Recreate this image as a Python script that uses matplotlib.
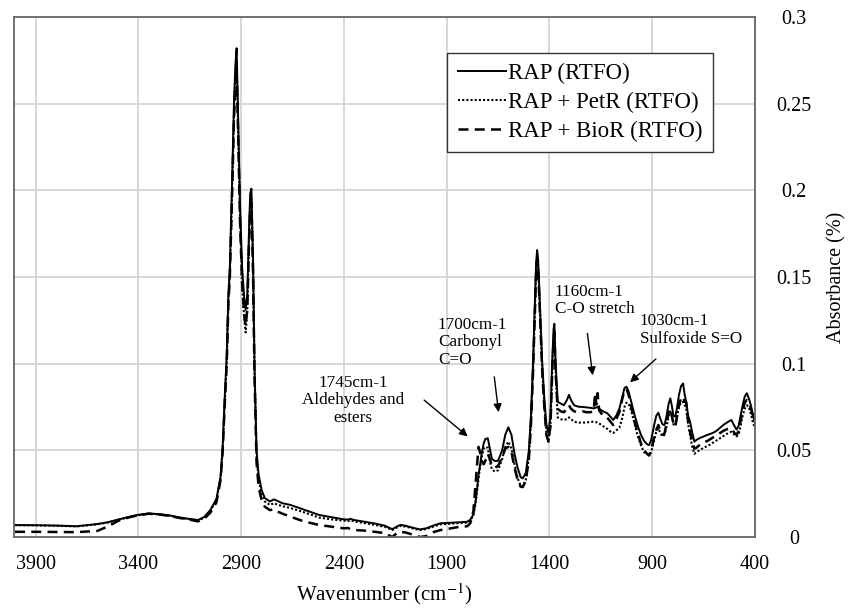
import numpy as np
import matplotlib
matplotlib.use('Agg')
import matplotlib.pyplot as plt

############################################################################
#    Dati spettro FTIR                                 #
############################################################################

wavenumber = np.array([
    4000, 3900, 3800, 3700, 3600, 3550, 3500, 3450, 3400, 3350,
    3300, 3250, 3200, 3150, 3110, 3080, 3050, 3020, 3000, 2990,
    2980, 2970, 2962, 2955, 2945, 2935, 2928, 2922, 2915, 2905,
    2895, 2885, 2878, 2870, 2862, 2856, 2850, 2842, 2835, 2825,
    2815, 2800, 2785, 2760, 2740, 2730, 2700, 2660, 2600, 2520,
    2450, 2400, 2380, 2370, 2350, 2300, 2250, 2200, 2165, 2140,
    2125, 2100, 2060, 2030, 2000, 1960, 1930, 1880, 1840, 1800,
    1785, 1770, 1760, 1750, 1745, 1738, 1730, 1720, 1712, 1700,
    1690, 1680, 1665, 1650, 1630, 1615, 1600, 1585, 1570, 1555,
    1540, 1530, 1515, 1500, 1490, 1480, 1470, 1465, 1460, 1455,
    1445, 1435, 1425, 1415, 1405, 1395, 1387, 1380, 1376, 1370,
    1360, 1345, 1330, 1315, 1305, 1295, 1280, 1260, 1240, 1220,
    1200, 1185, 1178, 1172, 1166, 1158, 1140, 1120, 1100, 1090,
    1075, 1060, 1045, 1035, 1025, 1015, 1000, 985, 970, 955, 940,
    925, 915, 905, 890, 880, 870, 860, 850, 840, 830,
    820, 812, 805, 797, 788, 780, 770, 760, 750, 742,
    735, 725, 715, 705, 695, 685, 670, 650, 630, 610,
    590, 570, 550, 530, 515, 500, 490, 480, 470, 460,
    450, 440, 430, 420, 410, 400])

rap = np.array([
    .0069, .0068, .0066, .0062, .0075, .0085, .0100, .0115, .0128, .0136,
    .0132, .0125, .0113, .0104, .0098, .0115, .0155, .0220, .0350, .0520,
    .080, .105, .140, .155, .200, .250, .272, .282, .245, .190,
    .155, .138, .131, .140, .175, .198, .201, .160, .100, .050,
    .036, .027, .0225, .0205, .0217, .0212, .0195, .0185, .0160, .0127,
    .0112, .0102, .0100, .0105, .0098, .0088, .0078, .0065, .0045, .0062,
    .0070, .0065, .0052, .0044, .0050, .0068, .0079, .0082, .0085, .0088,
    .0100, .0130, .0200, .0300, .0360, .0410, .0480, .0540, .0565, .0570,
    .0510, .0450, .0438, .0440, .0500, .0590, .0633, .0590, .0480, .0400,
    .0345, .0338, .0370, .0500, .0700, .1000, .1400, .1580, .1655, .1600,
    .1300, .1000, .0800, .0650, .0600, .0700, .1000, .1200, .1230, .1000,
    .0780, .0770, .0760, .0790, .0820, .0790, .0760, .0752, .0750, .0748,
    .0745, .0742, .0745, .0748, .0750, .0740, .0725, .0715, .0690, .0675,
    .0700, .0740, .0810, .0860, .0867, .0840, .0770, .0700, .0640, .0590, .0555,
    .0535, .0530, .0560, .0650, .0700, .0717, .0680, .0650, .0646, .0700,
    .0770, .0800, .0760, .0700, .0694, .0740, .0820, .0870, .0886, .0820,
    .0780, .0700, .0660, .0600, .0550, .0560, .0570, .0580, .0590, .0598,
    .0610, .0630, .0650, .0665, .0675, .0640, .0620, .0640, .0700, .0760,
    .0810, .0830, .0800, .0760, .0700, .0656])

rap_petr = np.array([
    .0068, .0067, .0065, .0061, .0073, .0083, .0098, .0113, .0126, .0134,
    .0130, .0123, .0111, .0102, .0096, .0110, .0150, .0215, .0340, .0500,
    .077, .101, .136, .152, .195, .243, .265, .274, .238, .182,
    .145, .126, .118, .130, .170, .193, .196, .155, .096, .047,
    .033, .025, .0205, .0185, .0195, .0190, .0178, .0167, .0145, .0112,
    .0100, .0094, .0092, .0097, .0090, .0080, .0070, .0058, .0040, .0056,
    .0064, .0060, .0048, .0040, .0046, .0062, .0073, .0077, .0080, .0083,
    .0095, .0125, .0190, .0285, .0340, .0400, .0460, .0510, .0520, .0515,
    .0440, .0390, .0377, .0385, .0450, .0520, .0550, .0510, .0420, .0340,
    .0295, .0290, .0330, .0460, .0660, .0960, .1350, .1530, .1610, .1560,
    .1260, .0960, .0760, .0600, .0550, .0650, .0950, .1150, .1190, .0960,
    .0690, .0680, .0675, .0680, .0690, .0680, .0665, .0660, .0660, .0660,
    .0665, .0665, .0662, .0662, .0660, .0655, .0640, .0625, .0605, .0600,
    .0615, .0630, .0690, .0750, .0775, .0770, .0720, .0650, .0580, .0530, .0490,
    .0480, .0470, .0490, .0560, .0610, .0627, .0600, .0580, .0590, .0640,
    .0700, .0723, .0700, .0650, .0640, .0690, .0750, .0775, .0780, .0760,
    .0740, .0650, .0580, .0520, .0480, .0490, .0500, .0515, .0525, .0540,
    .0555, .0570, .0585, .0600, .0607, .0590, .0580, .0590, .0640, .0700,
    .0740, .0760, .0750, .0710, .0660, .0627])

rap_bior = np.array([
    .0030, .0030, .0029, .0028, .0035, .0060, .0092, .0112, .0126, .0134,
    .0130, .0122, .0110, .0100, .0090, .0105, .0140, .0200, .0330, .0490,
    .076, .100, .135, .150, .193, .240, .262, .270, .235, .180,
    .146, .128, .122, .132, .168, .190, .193, .152, .093, .043,
    .029, .021, .0175, .0155, .0160, .0150, .0135, .0117, .0092, .0069,
    .0058, .0050, .0052, .0046, .0040, .0037, .0030, .0022, .0000, .0025,
    .0030, .0026, .0012, .0000, .0005, .0030, .0040, .0050, .0058, .0062,
    .0080, .0150, .0300, .0450, .0520, .0490, .0440, .0420, .0440, .0480,
    .0450, .0410, .0400, .0410, .0460, .0510, .0520, .0490, .0400, .0330,
    .0290, .0288, .0325, .0450, .0650, .0950, .1340, .1520, .1600, .1550,
    .1250, .0950, .0750, .0590, .0550, .0640, .0940, .1140, .1180, .0950,
    .0740, .0725, .0720, .0740, .0760, .0740, .0725, .0720, .0725, .0720,
    .0720, .0725, .0830, .0765, .0830, .0730, .0700, .0690, .0660, .0646,
    .0680, .0720, .0800, .0850, .0855, .0820, .0740, .0660, .0600, .0540, .0500,
    .0480, .0470, .0500, .0580, .0620, .0646, .0610, .0590, .0598, .0660,
    .0720, .0740, .0700, .0660, .0636, .0690, .0760, .0800, .0810, .0780,
    .0780, .0660, .0600, .0550, .0510, .0515, .0530, .0545, .0555, .0570,
    .0585, .0600, .0615, .0625, .0627, .0600, .0590, .0610, .0670, .0730,
    .0775, .0790, .0780, .0740, .0700, .0675])

series_labels = ['RAP (RTFO)', 'RAP + PetR (RTFO)', 'RAP + BioR (RTFO)']

x_ticks = [3900, 3400, 2900, 2400, 1900, 1400, 900, 400]
y_ticks = [0, 0.05, 0.1, 0.15, 0.2, 0.25, 0.3]
y_tick_labels = ['0', '0.05', '0.1', '0.15', '0.2', '0.25', '0.3']

# annotazioni: testo, posizione testo, allineamento, coda freccia, punta freccia
notes = [
    ('1745cm-1\nAldehydes and\nesters', (2356, 0.0935), 'center', (2020, 0.080), (1787, 0.057)),
    ('1700cm-1\nCarbonyl\nC=O',         (1943, 0.1270), 'left',   (1670, 0.094), (1646, 0.0704)),
    ('1160cm-1\nC-O stretch',           (1373, 0.1460), 'left',   (1217, 0.119), (1188, 0.0917)),
    ('1030cm-1\nSulfoxide S=O',         (960,  0.1290), 'left',   (872, 0.1038), (1018, 0.0882)),
]

############################################################################
#    Grafico                                                               #
############################################################################

plt.rcParams['font.family'] = 'Liberation Serif'
plt.rcParams['mathtext.fontset'] = 'stix'

fig = plt.figure(figsize=(8.49, 6.11), dpi=100)
ax = fig.add_axes([14/849, 74/611, 741/849, 520/611])

ax.plot(wavenumber, rap, color='black', lw=1.4, ls='-', label=series_labels[0])
ax.plot(wavenumber, rap_petr, color='black', lw=1.5, ls=(0, (1, 1)), label=series_labels[1])
ax.plot(wavenumber, rap_bior, color='black', lw=1.8, ls=(0, (4, 2.5)), label=series_labels[2])

ax.set_xlim(4005, 400)
ax.set_ylim(0, 0.3)
ax.set_xticks(x_ticks)
ax.set_yticks(y_ticks)
ax.set_yticklabels(y_tick_labels)

ax.yaxis.tick_right()
ax.yaxis.set_label_position('right')
ax.tick_params(axis='both', length=0, labelsize=14.5)
ax.tick_params(axis='x', pad=13)
ax.tick_params(axis='y', pad=28)
for lab in ax.get_yticklabels():
    lab.set_horizontalalignment('center')

ax.grid(True, color='#d4d4d4', lw=1.3)
ax.set_axisbelow(True)
for sp in ax.spines.values():
    sp.set_color('#666666')
    sp.set_linewidth(1.3)

ax.set_xlabel('Wavenumber (cm$^{-1}$)', fontsize=15, labelpad=5)
ax.set_ylabel('Absorbance (%)', fontsize=14.5)
ax.yaxis.set_label_coords(1.098, 0.5)

# annotazioni con frecce
for txt, pos, ha, tail, head in notes:
    ax.text(pos[0], pos[1], txt, ha=ha, va='top', fontsize=12.3, linespacing=1.12)
    ax.annotate('', xy=head, xytext=tail,
                arrowprops=dict(arrowstyle='-|>', color='black', lw=1.0, mutation_scale=12))

leg = ax.legend(loc='upper right', bbox_to_anchor=(0.943, 0.931), borderaxespad=0,
                fontsize=16.5, fancybox=False, framealpha=1, edgecolor='#333333',
                handlelength=2.1, handletextpad=0.1, labelspacing=0.33, borderpad=0.45)
leg.get_frame().set_linewidth(1.0)

fig.savefig('out.png', dpi=100)
